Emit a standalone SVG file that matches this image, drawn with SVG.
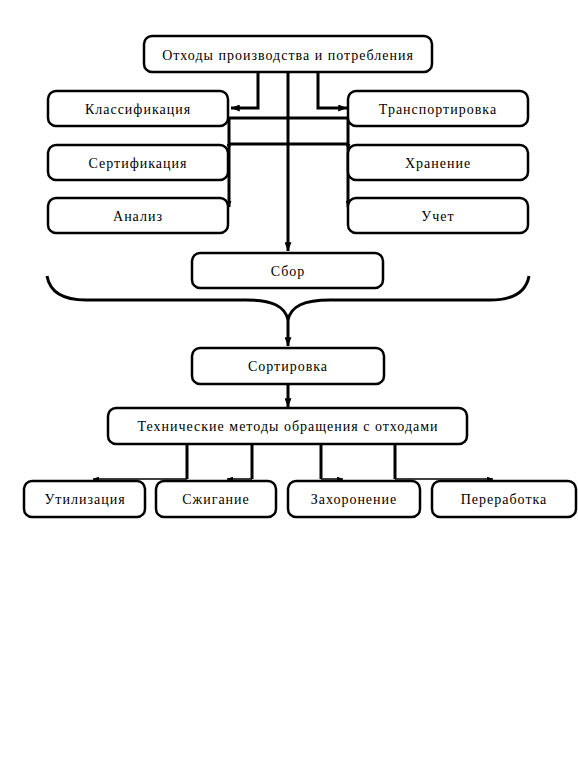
<svg xmlns="http://www.w3.org/2000/svg" width="578" height="757" viewBox="0 0 578 757">
<style>
.box{fill:#fff;stroke:#000;stroke-width:2.5}
.t{font-family:"Liberation Serif","DejaVu Serif",serif;font-size:14px;letter-spacing:1px;fill:#000;text-anchor:middle;dominant-baseline:central}
.c{fill:none;stroke:#000;stroke-width:3}
.thin{fill:none;stroke:#000;stroke-width:1.5}
</style>
<defs>
<marker id="ah" viewBox="0 0 10 8" refX="10" refY="4" markerWidth="9" markerHeight="7" markerUnits="userSpaceOnUse" orient="auto">
<path d="M0,0 L10,4 L0,8 Z" fill="#000"/>
</marker>
<marker id="as" viewBox="0 0 10 8" refX="10" refY="4" markerWidth="6" markerHeight="5" markerUnits="userSpaceOnUse" orient="auto">
<path d="M0,0 L10,4 L0,8 Z" fill="#000"/>
</marker>
</defs>
<rect width="578" height="757" fill="#fff"/>
<g id="connectors">
<path class="c" d="M258,73 V108 H231" marker-end="url(#ah)"/>
<path class="c" d="M318,73 V108 H347" marker-end="url(#ah)"/>
<path class="c" d="M288,73 V251" marker-end="url(#ah)"/>
<path class="c" d="M228,118 H348"/>
<path class="c" d="M228,144 H348"/>
<path class="c" d="M229,118 V150" marker-end="url(#as)"/>
<path class="c" d="M229,150 V207" marker-end="url(#as)"/>
<path class="c" d="M348,118 V150" marker-end="url(#as)"/>
<path class="c" d="M348,150 V207" marker-end="url(#as)"/>
<path class="c" d="M47,276 C50,293 64,300 86,300 L246,300 C272,300 285,306 288,320 C291,306 304,300 330,300 L490,300 C512,300 526,293 529,276"/>
<path class="c" d="M288,320 V346" marker-end="url(#ah)"/>
<path class="c" d="M288,384 V407" marker-end="url(#ah)"/>
<path class="c" d="M187,444 V479"/>
<path class="c" d="M252,444 V479"/>
<path class="c" d="M321,444 V479"/>
<path class="c" d="M395,444 V479"/>
<path class="thin" d="M187,479 H93" marker-end="url(#as)"/>
<path class="thin" d="M252,479 H227" marker-end="url(#as)"/>
<path class="thin" d="M321,479 H343" marker-end="url(#as)"/>
<path class="thin" d="M395,479 H493" marker-end="url(#as)"/>
</g>
<g id="n-top"><rect class="box" x="144" y="36" width="288" height="36" rx="8"/><text class="t" x="288" y="55">Отходы производства и потребления</text></g>
<g id="n-klass"><rect class="box" x="48" y="91" width="180" height="35" rx="8"/><text class="t" x="138" y="109">Классификация</text></g>
<g id="n-sert"><rect class="box" x="48" y="145" width="180" height="35" rx="8"/><text class="t" x="138" y="163">Сертификация</text></g>
<g id="n-analiz"><rect class="box" x="48" y="198" width="180" height="35" rx="8"/><text class="t" x="138" y="216">Анализ</text></g>
<g id="n-trans"><rect class="box" x="348" y="91" width="180" height="35" rx="8"/><text class="t" x="438" y="109">Транспортировка</text></g>
<g id="n-hran"><rect class="box" x="348" y="145" width="180" height="35" rx="8"/><text class="t" x="438" y="163">Хранение</text></g>
<g id="n-uchet"><rect class="box" x="348" y="198" width="180" height="35" rx="8"/><text class="t" x="438" y="216">Учет</text></g>
<g id="n-sbor"><rect class="box" x="192" y="253" width="191" height="35" rx="8"/><text class="t" x="288" y="271">Сбор</text></g>
<g id="n-sort"><rect class="box" x="192" y="348" width="192" height="36" rx="8"/><text class="t" x="288" y="366">Сортировка</text></g>
<g id="n-tech"><rect class="box" x="108" y="408" width="359" height="36" rx="8"/><text class="t" x="288" y="426">Технические методы обращения с отходами</text></g>
<g id="n-util"><rect class="box" x="24" y="481" width="121" height="36" rx="8"/><text class="t" x="85" y="499">Утилизация</text></g>
<g id="n-szhig"><rect class="box" x="156" y="481" width="120" height="36" rx="8"/><text class="t" x="216" y="499">Сжигание</text></g>
<g id="n-zahor"><rect class="box" x="288" y="481" width="132" height="36" rx="8"/><text class="t" x="354" y="499">Захоронение</text></g>
<g id="n-perer"><rect class="box" x="432" y="481" width="144" height="36" rx="8"/><text class="t" x="504" y="499">Переработка</text></g>
</svg>
